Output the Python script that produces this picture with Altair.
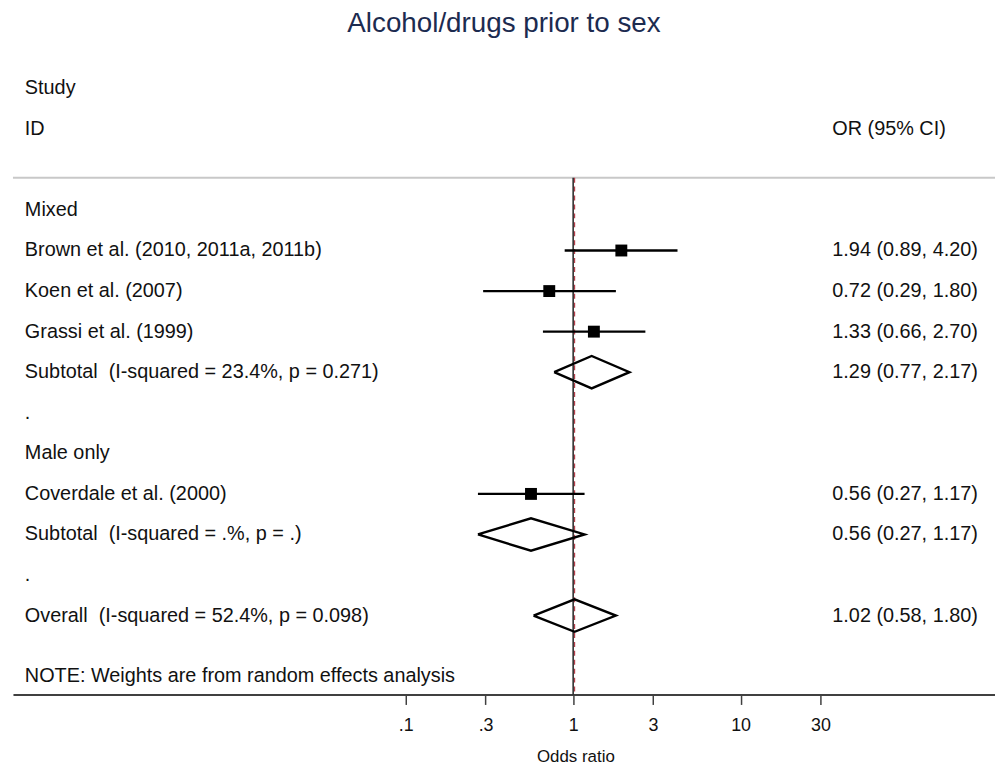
import altair as alt
import pandas as pd

# ---------------- data ----------------
TITLE = "Alcohol/drugs prior to sex"
HEADER_LEFT = ["Study", "ID"]
HEADER_LEFT_ROWS = [0, 1]
HEADER_RIGHT = ["OR (95% CI)"]
HEADER_RIGHT_ROWS = [1]

SECTION_LABELS = ["Mixed", ".", "Male only", "."]
SECTION_ROWS = [3, 8, 9, 12]

STUDY_NAMES = ["Brown et al. (2010, 2011a, 2011b)", "Koen et al. (2007)",
               "Grassi et al. (1999)", "Coverdale et al. (2000)"]
STUDY_ROWS = [4, 5, 6, 10]
STUDY_OR = [1.94, 0.72, 1.33, 0.56]
STUDY_LO = [0.89, 0.29, 0.66, 0.27]
STUDY_HI = [4.20, 1.80, 2.70, 1.17]

POOLED_NAMES = ["Subtotal\u00a0 (I-squared = 23.4%, p = 0.271)",
                "Subtotal\u00a0 (I-squared = .%, p = .)",
                "Overall\u00a0 (I-squared = 52.4%, p = 0.098)"]
POOLED_ROWS = [7, 11, 13]
POOLED_OR = [1.29, 0.56, 1.02]
POOLED_LO = [0.77, 0.27, 0.58]
POOLED_HI = [2.17, 1.17, 1.80]

NOTE = ["NOTE: Weights are from random effects analysis"]
NOTE_ROWS = [14.5]

TICK_VALUES = [0.1, 0.3, 1, 3, 10, 30]
TICK_LABELS = [".1", ".3", "1", "3", "10", "30"]
X_TITLE = "Odds ratio"
NULL_VALUE = 1

# ---------------- layout / style ----------------
FONT = "Liberation Sans"
TXT = "#111111"
X_DOMAIN = [0.000451, 330.8]
Y_DOMAIN = [-0.9, 14.945]
HEADER_LINE_ROW = 2.205
DIAMOND_HALF = 0.4

xscale = alt.Scale(type="log", domain=X_DOMAIN, nice=False, zero=False)
yscale = alt.Scale(domain=Y_DOMAIN, reverse=True, nice=False, zero=False)


def fmt(o, l, h):
    return f"{o:.2f} ({l:.2f}, {h:.2f})"


left_df = pd.DataFrame({
    "label": HEADER_LEFT + SECTION_LABELS + STUDY_NAMES + POOLED_NAMES + NOTE,
    "row": HEADER_LEFT_ROWS + SECTION_ROWS + STUDY_ROWS + POOLED_ROWS + NOTE_ROWS,
})
right_df = pd.DataFrame({
    "label": HEADER_RIGHT
    + [fmt(o, l, h) for o, l, h in zip(STUDY_OR, STUDY_LO, STUDY_HI)]
    + [fmt(o, l, h) for o, l, h in zip(POOLED_OR, POOLED_LO, POOLED_HI)],
    "row": HEADER_RIGHT_ROWS + STUDY_ROWS + POOLED_ROWS,
})
study_df = pd.DataFrame({"name": STUDY_NAMES, "row": STUDY_ROWS,
                         "or": STUDY_OR, "lo": STUDY_LO, "hi": STUDY_HI})

dia_rows = []
for i, (r, o, l, h) in enumerate(zip(POOLED_ROWS, POOLED_OR, POOLED_LO, POOLED_HI)):
    pts = [(l, r), (o, r - DIAMOND_HALF), (h, r), (o, r + DIAMOND_HALF), (l, r)]
    for k, (xv, yv) in enumerate(pts):
        dia_rows.append({"id": i, "ord": k, "x": xv, "y": yv})
dia_df = pd.DataFrame(dia_rows)

vline_df = pd.DataFrame({
    "v": [NULL_VALUE, POOLED_OR[-1]],
    "kind": ["null", "overall"],
    "y1": [HEADER_LINE_ROW, HEADER_LINE_ROW],
    "y2": [Y_DOMAIN[1], Y_DOMAIN[1]],
})

label_expr = " : ".join(
    f"datum.value == {v} ? '{t}'" for v, t in zip(TICK_VALUES, TICK_LABELS)
) + " : ''"

x_axis = alt.Axis(values=TICK_VALUES, labelExpr=label_expr, title=X_TITLE,
                  grid=False, domainColor="#404040", domainWidth=2,
                  tickColor="#404040", tickWidth=1.5, tickSize=10,
                  labelFontSize=18, labelColor=TXT, labelFont=FONT,
                  labelPadding=12, titleFontSize=17, titleFontWeight="normal",
                  titleColor=TXT, titleFont=FONT,
                  titleX=567, titleY=63, titleBaseline="middle", titleAlign="center")

# header separator line
sep = alt.Chart(pd.DataFrame({"r": [HEADER_LINE_ROW]})).mark_rule(
    color="#c8c8c8", strokeWidth=2
).encode(y=alt.Y("r:Q", scale=yscale, axis=None))

null_line = alt.Chart(vline_df).transform_filter(
    alt.datum.kind == "null"
).mark_rule(color="#222222", strokeWidth=1.5).encode(
    x=alt.X("v:Q", scale=xscale, axis=x_axis),
    y=alt.Y("y1:Q", scale=yscale, axis=None),
    y2="y2:Q",
)
overall_line = alt.Chart(vline_df).transform_filter(
    alt.datum.kind == "overall"
).mark_rule(color="#b5404c", strokeWidth=1.2, strokeDash=[5, 4]).encode(
    x=alt.X("v:Q", scale=xscale, axis=x_axis),
    y=alt.Y("y1:Q", scale=yscale, axis=None),
    y2="y2:Q",
)

ci = alt.Chart(study_df).mark_rule(color="black", strokeWidth=2.4).encode(
    x=alt.X("lo:Q", scale=xscale, axis=x_axis),
    x2="hi:Q",
    y=alt.Y("row:Q", scale=yscale, axis=None),
)
boxes = alt.Chart(study_df).mark_square(color="black", filled=True, size=144, opacity=1).encode(
    x=alt.X("or:Q", scale=xscale, axis=x_axis),
    y=alt.Y("row:Q", scale=yscale, axis=None),
)
diamonds = alt.Chart(dia_df).mark_line(color="black", strokeWidth=2.4, strokeJoin="miter").encode(
    x=alt.X("x:Q", scale=xscale, axis=x_axis),
    y=alt.Y("y:Q", scale=yscale, axis=None),
    detail="id:N",
    order="ord:Q",
)

left_text = alt.Chart(left_df).mark_text(
    align="left", baseline="middle", fontSize=20, font=FONT, color=TXT
).encode(x=alt.value(12), y=alt.Y("row:Q", scale=yscale, axis=None), text="label:N")

right_text = alt.Chart(right_df).mark_text(
    align="left", baseline="middle", fontSize=20, font=FONT, color=TXT
).encode(x=alt.value(826), y=alt.Y("row:Q", scale=yscale, axis=None), text="label:N")

chart = alt.layer(
    sep, null_line, overall_line, ci, boxes, diamonds, left_text, right_text
).properties(
    width=990,
    height=648,
    padding={"left": 5, "top": 41, "right": 0, "bottom": 72},
    autosize=alt.AutoSizeParams(type="none"),
    title=alt.TitleParams(TITLE, fontSize=28, fontWeight="normal", color="#1c2b50",
                          font=FONT, anchor="middle", offset=14),
).configure_view(strokeWidth=0)

chart.save("out.html", embed_options={"renderer": "svg", "actions": False})
